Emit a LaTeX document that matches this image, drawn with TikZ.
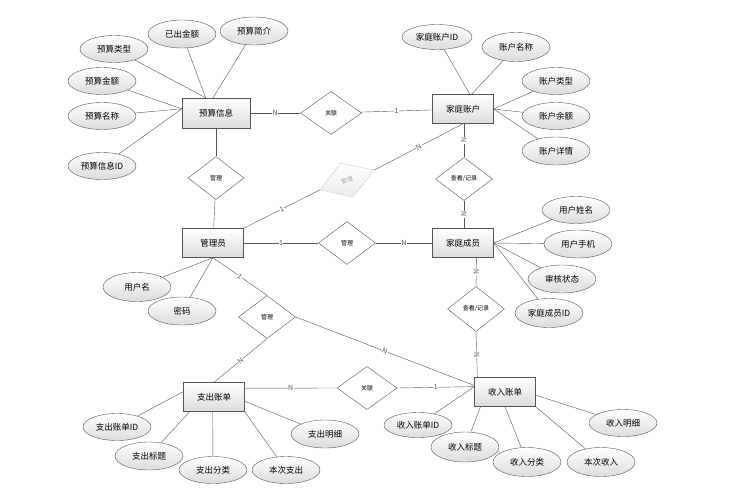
\documentclass[tikz,border=0pt]{standalone}
\usepackage{fontspec}
\setmainfont{Noto Sans CJK SC}
\usetikzlibrary{shapes.geometric}
\definecolor{edgegray}{HTML}{555555}
\definecolor{fillgray}{HTML}{DCDCDC}
\tikzset{
  entity/.style={draw=edgegray, rectangle, minimum width=61pt, minimum height=29pt,
    inner sep=0pt, top color=white, bottom color=fillgray, font=\fontsize{8.5}{9}\selectfont},
  attr/.style={draw=edgegray, ellipse, minimum width=68pt, minimum height=27pt,
    inner sep=0pt, top color=white, bottom color=fillgray, font=\fontsize{8.5}{9}\selectfont},
  rel/.style={draw=edgegray, diamond, minimum width=57pt, minimum height=43pt,
    inner sep=0pt, fill=white, font=\fontsize{6}{6}\selectfont},
  card/.style={fill=white, inner sep=0.5pt, font=\fontsize{7}{7}\selectfont, sloped},
}
\begin{document}
\begin{tikzpicture}[x=1pt,y=-1pt]
  \useasboundingbox (0,0) rectangle (747,499);
  \node[entity, minimum width=68pt, minimum height=30pt] (budget) at (216,113) {预算信息};
  \node[entity] (account) at (463,109) {家庭账户};
  \node[entity] (admin) at (213,243) {管理员};
  \node[entity] (member) at (463,243) {家庭成员};
  \node[entity] (expense) at (214,397) {支出账单};
  \node[entity] (income) at (505,392) {收入账单};

  \node[rel, minimum width=61pt] (link1) at (331,113) {关联};
  \node[rel, minimum width=56pt] (mgmt1) at (216,178) {管理};
  \node[rel] (mgmt2) at (347,243) {管理};
  \node[rel] (mgmt3) at (267,317) {管理};
  \node[rel, minimum width=60pt] (link2) at (367,388) {关联};
  \node[rel] (view1) at (464,179) {查看/记录};
  \node[rel, minimum height=45pt] (view2) at (476,309) {查看/记录};
  \node[rel, draw=gray!40, text=gray!70, rotate=20, minimum width=58pt, minimum height=36pt,
    top color=white, bottom color=gray!15] (fade) at (347,180) {管理};

  \node[attr] (btype) at (114,49) {预算类型};
  \node[attr, minimum height=28pt] (bspent) at (182,34) {已出金额};
  \node[attr, minimum height=28pt] (bintro) at (254,31) {预算简介};
  \node[attr] (bamount) at (102,81) {预算金额};
  \node[attr] (bname) at (102,116) {预算名称};
  \node[attr] (bid) at (102,166) {预算信息ID};

  \node[attr, minimum width=70pt, minimum height=25pt] (aid) at (437,37) {家庭账户ID};
  \node[attr, minimum height=29pt] (aname) at (516,47) {账户名称};
  \node[attr] (atype) at (556,81) {账户类型};
  \node[attr] (abalance) at (556,116) {账户余额};
  \node[attr, minimum height=28pt] (adetail) at (556,151) {账户详情};

  \node[attr, minimum height=29pt] (uname) at (137,287) {用户名};
  \node[attr, minimum height=28pt] (upwd) at (182,311) {密码};

  \node[attr] (mname) at (576,210) {用户姓名};
  \node[attr, minimum height=28pt] (mphone) at (578,244) {用户手机};
  \node[attr, minimum height=28pt] (mstate) at (562,279) {审核状态};
  \node[attr, minimum height=29pt] (mid) at (549,313) {家庭成员ID};

  \node[attr] (eid) at (117,427) {支出账单ID};
  \node[attr, minimum height=28pt] (etitle) at (149,456) {支出标题};
  \node[attr] (ecat) at (213,470) {支出分类};
  \node[attr] (ecur) at (286,470) {本次支出};
  \node[attr, minimum height=28pt] (edetail) at (325,434) {支出明细};

  \node[attr, minimum height=25pt] (iid) at (418,425) {收入账单ID};
  \node[attr, minimum height=30pt] (ititle) at (465,447) {收入标题};
  \node[attr, minimum height=29pt] (icat) at (527,462) {收入分类};
  \node[attr, minimum height=29pt] (icur) at (601,462) {本次收入};
  \node[attr] (idetail) at (623,423) {收入明细};

  \begin{scope}[edgegray]
    \draw (budget) -- node[card]{N} (link1);
    \draw (link1) -- node[card]{1} (account);
    \draw (budget) -- (mgmt1);
    \draw (mgmt1) -- (admin);
    \draw (admin.north east) -- node[card]{1} (fade.west);
    \draw (fade.east) -- node[card]{N} (account.south);
    \draw (account.south -| view1.north) -- node[card]{N} (view1);
    \draw (view1) -- node[card]{N} (member.north -| view1.south);
    \draw (admin) -- node[card]{1} (mgmt2);
    \draw (mgmt2) -- node[card]{N} (member);
    \draw (member.-47) -- node[card]{N} (view2.north);
    \draw (view2.south) -- node[card]{N} (income.152);
    \draw (admin.south) -- node[card]{1} (mgmt3.north);
    \draw (mgmt3.south) -- node[card]{N} (expense.north);
    \draw (mgmt3.east) -- node[card]{N} (income.168);
    \draw (expense.16) -- node[card]{N} (link2.west);
    \draw (link2.east) -- node[card]{1} (income.170);

    \draw (btype) -- (budget.124);
    \draw (bspent) -- (budget.124);
    \draw (bintro) -- (budget.101);
    \draw (bamount) -- (budget.173);
    \draw (bname) -- (budget.173);
    \draw (bid) -- (budget.173);

    \draw (aid) -- (account.65);
    \draw (aname) -- (account.60);
    \draw (atype) -- (account.east);
    \draw (abalance) -- (account.east);
    \draw (adetail) -- (account.east);

    \draw (uname) -- (admin.south);
    \draw (upwd) -- (admin.south);

    \draw (mname) -- (member.east);
    \draw (mphone) -- (member.east);
    \draw (mstate) -- (member.east);
    \draw (mid) -- (member.east);

    \draw (eid) -- (expense.170);
    \draw (etitle) -- (expense.211);
    \draw (ecat) -- (expense.265);
    \draw (ecur) -- (expense.south east);
    \draw (edetail) -- (expense.-8);

    \draw (iid) -- (income.170);
    \draw (ititle) -- (income.211);
    \draw (icat) -- (income.south);
    \draw (icur) -- (income.south east);
    \draw (idetail) -- (income.-6);
  \end{scope}
\end{tikzpicture}
\end{document}
